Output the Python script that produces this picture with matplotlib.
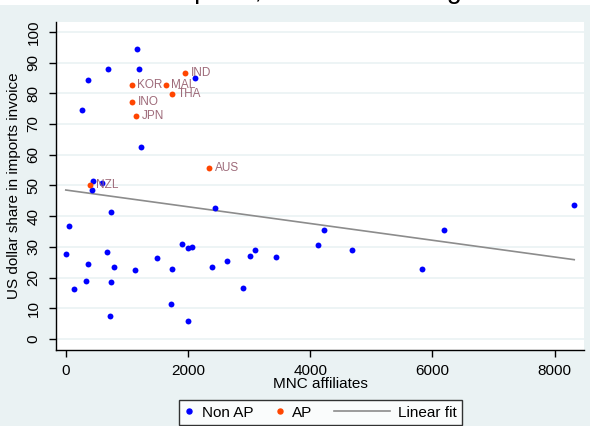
import numpy as np
import matplotlib
matplotlib.use("Agg")
import matplotlib.pyplot as plt
from matplotlib.lines import Line2D
from matplotlib.patches import Rectangle
from matplotlib.legend_handler import HandlerLine2D

plt.rcParams["font.family"] = ["Liberation Sans", "DejaVu Sans"]

# Non AP countries: MNC affiliates, USD share in imports invoice
nonap_x = [1158, 695, 1201, 358, 2122, 260, 1229, 450, 591, 428,
           744, 2443, 47, 0, 139, 358, 335, 673, 793, 744, 722,
           1131, 1495, 1735, 1719, 1904, 2002, 2062, 2008, 2394, 2634,
           2895, 3015, 3097, 3435, 4132, 4230, 4688, 5832, 6191, 8320]
nonap_y = [94.4, 88.0, 88.0, 84.3, 85.1, 74.6, 62.5, 51.5, 50.9, 48.4,
           41.3, 42.7, 36.9, 27.7, 16.1, 24.3, 19.0, 28.2, 23.4, 18.6, 7.5,
           22.4, 26.3, 22.9, 11.3, 31.0, 29.6, 30.1, 6.0, 23.4, 25.3,
           16.6, 27.1, 29.1, 26.7, 30.5, 35.4, 29.1, 22.8, 35.4, 43.6]

# AP countries
ap_labels = ["KOR", "MAL", "IND", "THA", "INO", "JPN", "AUS", "NZL"]
ap_x = [1082, 1637, 1953, 1741, 1082, 1152, 2345, 400]
ap_y = [82.8, 82.8, 86.7, 79.9, 77.1, 72.6, 55.8, 50.1]

legend_labels = ["Non AP", "AP", "Linear fit"]
title_text = "Dollar imports, all dollar average"

all_x = np.array(nonap_x + ap_x, dtype=float)
all_y = np.array(nonap_y + ap_y, dtype=float)
b1, b0 = np.polyfit(all_x, all_y, 1)

bg = "#EAF2F3"
blue = "#0000FF"
orange = "#FF4500"
fitc = "#8C8C8C"

W, H = 590, 426
fig = plt.figure(figsize=(W / 100, H / 100), dpi=100, facecolor=bg)
# white strip at the top (cropped screenshot area)
fig.patches.append(Rectangle((0, 1 - 5 / H), 1, 5 / H, transform=fig.transFigure,
                             facecolor="white", edgecolor="none", zorder=0))
fig.text(87 / W, 1 + 2 / H, title_text, ha="left", va="baseline",
         fontsize=19.5, color="black", zorder=1)

ax = fig.add_axes([56 / W, 1 - 350 / H, (584 - 56) / W, (350 - 22) / H])
ax.set_facecolor("white")

ax.set_xlim(-160, 8480)
ax.set_ylim(-3.6, 103.2)
ax.set_yticks(range(0, 101, 10))
ax.set_xticks([0, 2000, 4000, 6000, 8000])
ax.grid(axis="y", color=bg, lw=1.2)
ax.set_axisbelow(True)
for s in ["top", "right"]:
    ax.spines[s].set_visible(False)
for s in ["left", "bottom"]:
    ax.spines[s].set_color("black")
    ax.spines[s].set_linewidth(1.0)
ax.tick_params(axis="both", direction="out", length=5, width=1, labelsize=11,
               colors="black")
ax.tick_params(axis="x", pad=5)
ax.tick_params(axis="y", pad=6)
for lab in ax.get_yticklabels():
    lab.set_rotation(90)
    lab.set_va("center")

xs = np.linspace(all_x.min(), all_x.max(), 50)
ax.plot(xs, b0 + b1 * xs, color=fitc, lw=1.2, zorder=2)
ax.scatter(nonap_x, nonap_y, s=18, color=blue, zorder=3, linewidths=0)
ax.scatter(ap_x, ap_y, s=18, color=orange, zorder=3, linewidths=0)
for lx, ly, lt in zip(ap_x, ap_y, ap_labels):
    ax.annotate(lt, (lx, ly), xytext=(4, 0), textcoords="offset points",
                va="center", ha="left", fontsize=8.5, color="#9E6B7A", zorder=4)

ax.set_xlabel("MNC affiliates", fontsize=11, labelpad=-1)
ax.set_ylabel("US dollar share in imports invoice", fontsize=11, labelpad=4)


class LongLine(HandlerLine2D):
    def legend_artist(self, legend, orig_handle, fontsize, handlebox):
        handlebox.width = 40
        return super().legend_artist(legend, orig_handle, fontsize, handlebox)


handles = [Line2D([], [], marker="o", ls="", color=blue, ms=3.6),
           Line2D([], [], marker="o", ls="", color=orange, ms=3.6),
           Line2D([], [], color=fitc, lw=1.2)]
leg = fig.legend(handles, legend_labels, loc="lower center",
                 bbox_to_anchor=(320.5 / W, 1 / H), ncol=3, fontsize=11,
                 frameon=True, fancybox=False, edgecolor="black",
                 handlelength=0.6, handletextpad=0.5, columnspacing=1.45,
                 borderpad=0.35, borderaxespad=0,
                 handler_map={handles[2]: LongLine()})
leg.get_frame().set_linewidth(1.0)
leg.get_frame().set_facecolor("white")

fig.savefig("out.png", dpi=100, facecolor=bg)
